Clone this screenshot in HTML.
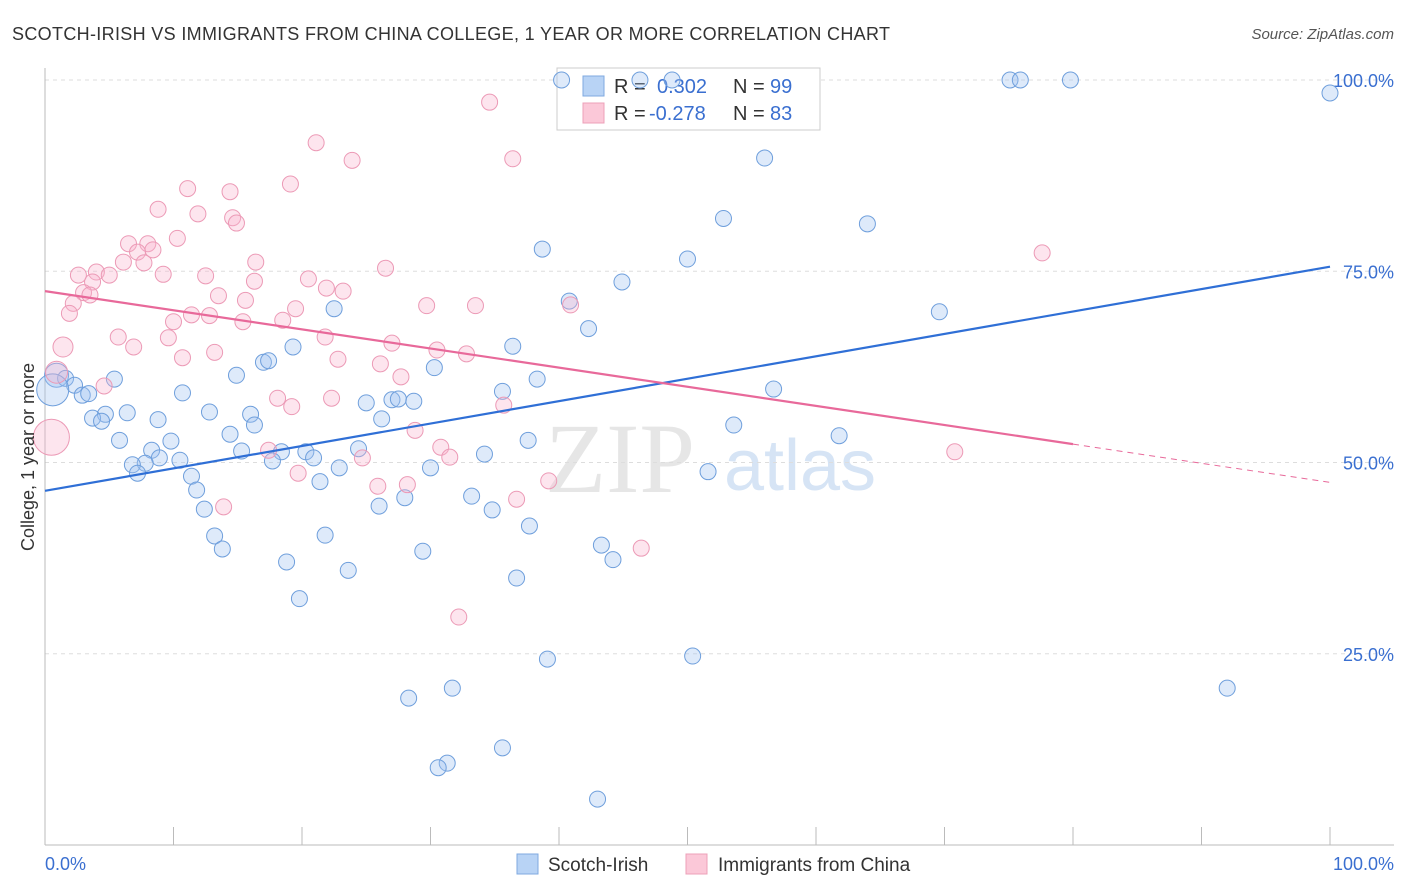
<!DOCTYPE html>
<html><head><meta charset="utf-8"><style>
body{margin:0;background:#fff;font-family:"Liberation Sans",sans-serif;}
#wrap{position:relative;width:1406px;height:892px;overflow:hidden;}
</style></head><body>
<div id="wrap">
<svg id="svg" width="1406" height="892" xmlns="http://www.w3.org/2000/svg">
<text x="12" y="40" font-size="18" fill="#333" textLength="878" lengthAdjust="spacing">SCOTCH-IRISH VS IMMIGRANTS FROM CHINA COLLEGE, 1 YEAR OR MORE CORRELATION CHART</text>
<text x="1394" y="39" font-size="15" fill="#555" font-style="italic" text-anchor="end">Source: ZipAtlas.com</text>
<text x="620" y="492" font-size="100" fill="#e6e6e6" font-family="Liberation Serif,serif" text-anchor="middle">ZIP</text>
<text x="800" y="490" font-size="72" fill="#d6e4f5" text-anchor="middle">atlas</text>
<g id="grid"></g>
<g>
<rect x="557" y="68" width="263" height="62" fill="#fff" stroke="#ccc"/>
<rect x="583" y="76" width="21" height="20" fill="#b8d3f5" stroke="#7fa9e0"/>
<rect x="583" y="103" width="21" height="20" fill="#fbc8d8" stroke="#eda0b8"/>
<text x="614" y="93" font-size="20" fill="#333">R = </text><text x="657" y="93" font-size="20" fill="#3a6fd0">0.302</text>
<text x="733" y="93" font-size="20" fill="#333">N = </text><text x="770" y="93" font-size="20" fill="#3a6fd0">99</text>
<text x="614" y="120" font-size="20" fill="#333">R = </text><text x="649" y="120" font-size="20" fill="#3a6fd0">-0.278</text>
<text x="733" y="120" font-size="20" fill="#333">N = </text><text x="770" y="120" font-size="20" fill="#3a6fd0">83</text>
</g>
<g id="pts"></g><g id="lines"></g>
<text transform="translate(34,457) rotate(-90)" font-size="18" fill="#333" text-anchor="middle">College, 1 year or more</text>
<text x="45" y="870" font-size="18" fill="#3a6fd0">0.0%</text>
<text x="1394" y="870" font-size="18" fill="#3a6fd0" text-anchor="end">100.0%</text>
<g><rect x="517" y="854" width="21" height="20" fill="#b8d3f5" stroke="#7fa9e0"/><text x="548" y="871" font-size="19" fill="#333">Scotch-Irish</text></g>
<g><rect x="686" y="854" width="21" height="20" fill="#fbc8d8" stroke="#eda0b8"/><text x="718" y="871" font-size="19" fill="#333">Immigrants from China</text></g>
</svg></div>
<script>
const yTicks=[25,50,75,100];
const yTickLabels=["25.0%","50.0%","75.0%","100.0%"];
const xTicks=[0,10,20,30,40,50,60,70,80,90,100];
const blueX=[40.2,46.3,48.8,75.1,75.9,79.8,100,56.0,52.8,64.0,38.7,50.0,44.9,40.8,22.5,42.3,69.6,19.3,36.4,17.0,17.4,14.9,30.3,5.4,38.3,35.6,56.7,10.7,0.9,1.6,2.3,2.9,3.4,25.0,27.0,27.5,28.7,12.8,16.0,4.7,6.4,8.8,3.7,4.4,26.2,53.6,14.4,5.8,16.3,37.6,61.8,9.8,8.3,15.3,20.3,18.4,24.4,34.2,8.9,10.5,7.8,6.8,17.7,20.9,22.9,30.0,51.6,7.2,11.4,21.4,11.8,28.0,33.2,12.4,26.0,34.8,37.7,13.2,21.8,13.8,43.3,29.4,44.2,18.8,23.6,36.7,19.8,39.1,50.4,92.0,31.7,28.3,35.6,31.3,30.6,43.0,0.6];
const blueY=[100,100,100,100,100,100,98.3,89.8,81.9,81.2,77.9,76.6,73.6,71.1,70.1,67.5,69.7,65.1,65.2,63.1,63.3,61.4,62.4,60.9,60.9,59.3,59.6,59.1,61.4,61.0,60.1,58.8,59.0,57.8,58.2,58.3,58.0,56.6,56.3,56.3,56.5,55.6,55.8,55.4,55.7,54.9,53.7,52.9,54.9,52.9,53.5,52.8,51.6,51.5,51.4,51.4,51.8,51.1,50.6,50.3,49.9,49.7,50.2,50.6,49.3,49.3,48.8,48.6,48.2,47.5,46.4,45.4,45.6,43.9,44.3,43.8,41.7,40.4,40.5,38.7,39.2,38.4,37.3,37.0,35.9,34.9,32.2,24.3,24.7,20.5,20.5,19.2,12.7,10.7,10.1,6.0,59.5];
const blueR=[8,8,8,8,8,8,8,8,8,8,8,8,8,8,8,8,8,8,8,8,8,8,8,8,8,8,8,8,12,8,8,8,8,8,8,8,8,8,8,8,8,8,8,8,8,8,8,8,8,8,8,8,8,8,8,8,8,8,8,8,8,8,8,8,8,8,8,8,8,8,8,8,8,8,8,8,8,8,8,8,8,8,8,8,8,8,8,8,8,8,8,8,8,8,8,8,16];
const pinkX=[34.6,21.1,23.9,36.4,19.1,11.1,14.4,8.8,11.9,14.6,14.9,10.3,6.5,8.0,8.4,7.2,7.7,16.4,6.1,26.5,2.6,4.0,9.2,12.5,5.0,3.7,77.6,20.5,16.3,21.9,23.2,3.0,3.5,2.2,13.5,15.6,29.7,33.5,40.9,19.5,1.9,11.4,12.8,10.0,15.4,18.5,5.7,9.6,21.8,6.9,1.4,27.0,13.2,30.5,32.8,10.7,22.8,26.1,27.7,4.6,18.1,22.3,35.7,19.2,28.8,17.4,30.8,31.5,24.7,70.8,19.7,25.9,28.2,39.2,36.7,13.9,46.4,32.2,0.5,0.9];
const pinkY=[97.1,91.8,89.5,89.7,86.4,85.8,85.4,83.1,82.5,82.0,81.3,79.3,78.6,78.6,77.8,77.5,76.1,76.2,76.2,75.4,74.5,74.9,74.6,74.4,74.5,73.6,77.4,74.0,73.7,72.8,72.4,72.2,71.9,70.8,71.8,71.2,70.5,70.5,70.6,70.1,69.5,69.3,69.2,68.4,68.4,68.6,66.4,66.3,66.4,65.1,65.1,65.6,64.4,64.7,64.2,63.7,63.5,62.9,61.2,60.0,58.4,58.4,57.5,57.3,54.2,51.6,52.0,50.7,50.6,51.4,48.6,46.9,47.1,47.6,45.2,44.2,38.8,29.8,53.3,61.8];
const pinkR=[8,8,8,8,8,8,8,8,8,8,8,8,8,8,8,8,8,8,8,8,8,8,8,8,8,8,8,8,8,8,8,8,8,8,8,8,8,8,8,8,8,8,8,8,8,8,8,8,8,8,10,8,8,8,8,8,8,8,8,8,8,8,8,8,8,8,8,8,8,8,8,8,8,8,8,8,8,8,18,11];
const blueFit=[46.3,75.6];
const pinkFit=[72.4,47.4];
const pinkSolidEnd=80;
const sx=v=>45+v*12.85, sy=v=>845-v*7.65;
const NS="http://www.w3.org/2000/svg";
function mk(t,a,p){const e=document.createElementNS(NS,t);for(const k in a)e.setAttribute(k,a[k]);p.appendChild(e);return e;}
const grid=document.getElementById('grid');
yTicks.forEach((t,i)=>{
  const l=mk('line',{x1:45,x2:1394,y1:sy(t),y2:sy(t),stroke:'#ddd','stroke-dasharray':'4,4'},grid);
  
  
  const tx=mk('text',{x:1394,y:sy(t)+7,'font-size':18,fill:'#3a6fd0','text-anchor':'end'},grid);
  tx.textContent=yTickLabels[i];
  
  
});
mk('line',{x1:45,x2:45,y1:68,y2:845,stroke:'#bbb'},grid);
mk('line',{x1:45,x2:1394,y1:845,y2:845,stroke:'#bbb'},grid);
xTicks.forEach(t=>{
  const l=mk('line',{x1:sx(t),x2:sx(t),y1:827,y2:845,stroke:'#bbb'},grid);
  
  
});
const pts=document.getElementById('pts');
blueX.forEach((x,i)=>{
  const c=mk('circle',{cx:sx(x),cy:sy(blueY[i]),r:blueR[i],fill:'rgba(160,195,240,0.35)',stroke:'#6f9fdc','stroke-width':1},pts);
  
  
});
pinkX.forEach((x,i)=>{
  const c=mk('circle',{cx:sx(x),cy:sy(pinkY[i]),r:pinkR[i],fill:'rgba(248,180,205,0.35)',stroke:'#ec9ab6','stroke-width':1},pts);
  
  
});
const lines=document.getElementById('lines');
const bl=mk('line',{x1:sx(0),y1:sy(blueFit[0]),x2:sx(100),y2:sy(blueFit[1]),stroke:'#2f6fd6','stroke-width':2.2},lines);


const pe=pinkFit[0]+(pinkFit[1]-pinkFit[0])*pinkSolidEnd/100;
const pl=mk('line',{x1:sx(0),y1:sy(pinkFit[0]),x2:sx(pinkSolidEnd),y2:sy(pe),stroke:'#e8699a','stroke-width':2.2},lines);


const pd=mk('line',{x1:sx(pinkSolidEnd),y1:sy(pe),x2:sx(100),y2:sy(pinkFit[1]),stroke:'#e8699a','stroke-width':1,'stroke-dasharray':'6,5'},lines);


</script>
</body></html>
